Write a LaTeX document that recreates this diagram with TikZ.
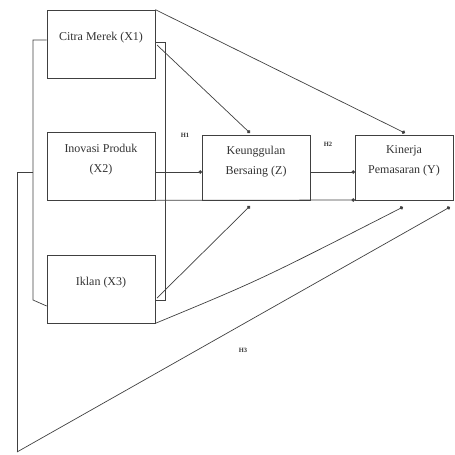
\documentclass[tikz,border=0pt]{standalone}
\usepackage{fontspec}
\setmainfont{Liberation Serif}
\usetikzlibrary{arrows.meta}
\begin{document}
\begin{tikzpicture}[x=1pt,y=-1pt,
  ln/.style={draw=black!75,line width=0.7pt},
  dot/.style={ln,-{Circle[length=3.6pt]}},
  box/.style={ln,rectangle,inner sep=0pt,minimum width=108pt,minimum height=68pt},
  txt/.style={font=\fontsize{12}{20}\selectfont,align=center,text=black!80,inner sep=0pt},
  hl/.style={font=\fontsize{6.5}{7}\selectfont\bfseries,text=black!80,inner sep=0pt}]
\useasboundingbox (0,0) rectangle (455,455);
% boxes
\node[box] (x1) at (101,44) {};
\node[box] (x2) at (101,166) {};
\node[box] (x3) at (101,289) {};
\node[box,minimum width=108pt,minimum height=65pt] (z) at (256,167.5) {};
\node[box,minimum width=98pt,minimum height=65pt] (y) at (404,167.5) {};
% texts
\node[txt] (tx1) at (101,38) {Citra Merek (X1)};
\node[txt] (tx2) at (101,160) {Inovasi Produk\\(X2)};
\node[txt] (tx3) at (101,283) {Iklan (X3)};
\node[txt] (tz) at (256,162) {Keunggulan\\Bersaing (Z)};
\node[txt] (ty) at (404,161) {Kinerja\\Pemasaran (Y)};
% labels
\node[hl] (h1) at (185,135) {H1};
\node[hl] (h2) at (328,144) {H2};
\node[hl] (h3) at (243,350) {H3};
% coordinates
\coordinate (lb1) at (33,40);
\coordinate (lb2) at (33,300);
\coordinate (lbm) at (33,172);
\coordinate (lv) at (17,172);
\coordinate (corner) at (17,452);
\coordinate (rb1) at (165,42);
\coordinate (rb2) at (165,300);
\coordinate (x1s) at (155,42);
\coordinate (x3s) at (155,300);
\coordinate (x1d) at (157,45);
\coordinate (zt) at (250,133);
\coordinate (zb) at (250,206);
\coordinate (yt) at (405,133);
\coordinate (yb1) at (403,207);
\coordinate (yb2) at (450,207);
\coordinate (yl1) at (355,172);
\coordinate (yl2) at (355,200);
\coordinate (zl) at (202,172);
\coordinate (x2r) at (155,172);
\coordinate (zr) at (310,172);
% left bracket
\draw[ln] (x1.west |- lb1) -- (lb1) -- (lb2) -- (x3.west |- 0,306);
\draw[ln] (lbm) -- (lv) -- (corner);
% right bracket
\draw[ln] (x1s) -- (rb1) -- (rb2) -- (x3s);
% arrows
\draw[dot] (x1.north east) -- (yt);
\draw[dot] (x1d) -- (zt);
\draw[dot] (x2r) -- (zl);
\draw[dot] (x2.south east) -- (yl2);
\draw[dot] (zr) -- (yl1);
\draw[dot] (157,298) -- (zb);
\draw[dot] (x3.south east) .. controls (260,280) .. (yb1);
\draw[dot] (corner) -- (yb2);
\end{tikzpicture}
\end{document}
